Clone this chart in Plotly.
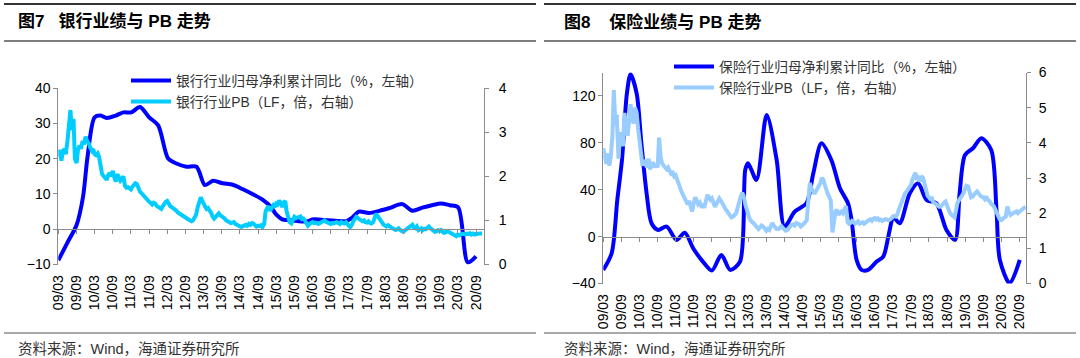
import pandas as pd
import plotly.graph_objects as go

# ---------------- data ----------------
tick_dates = pd.date_range("2009-03-01", "2020-09-01", freq="6MS")
tick_labels = [d.strftime("%y/%m") for d in tick_dates]

# bank: net profit attributable to parent, cumulative YoY (%)
bank_profit_dates = [
    "2009-03-01", "2009-06-01", "2009-09-01", "2009-11-05", "2009-12-20", "2010-03-01",
    "2010-05-01", "2010-07-01", "2010-10-01", "2010-12-15", "2011-03-05", "2011-06-01",
    "2011-09-01", "2011-12-01", "2012-03-10", "2012-06-01", "2012-09-10", "2012-12-20",
    "2013-03-15", "2013-06-05", "2013-09-10", "2013-12-20", "2014-04-01", "2014-07-10",
    "2014-10-15", "2015-01-05", "2015-03-01", "2015-05-01", "2015-07-01", "2015-10-01",
    "2016-01-01", "2016-03-15", "2016-07-01", "2016-10-15", "2017-02-01", "2017-04-01",
    "2017-06-10", "2017-09-20", "2018-01-01", "2018-04-15", "2018-08-20", "2018-12-01",
    "2019-03-10", "2019-06-15", "2019-09-15", "2019-12-10", "2020-03-05", "2020-06-10",
    "2020-09-01",
]
bank_profit = [
    -8.8, -3.8, 1.2, 9.2, 20.5, 31.7,
    32.2, 31.5, 32.2, 33.1, 33.1, 34.6,
    31.7, 29.4, 20.0, 18.6, 17.7, 17.7,
    12.5, 13.7, 13.0, 12.6, 11.3, 9.9,
    8.4, 6.4, 4.2, 2.8, 2.6, 2.3,
    2.2, 2.8, 2.6, 2.4, 2.3, 3.2,
    5.0, 4.6, 5.2, 6.0, 7.1, 5.2,
    6.1, 6.8, 7.3, 6.8, 6.2, -9.4,
    -7.7,
]

# bank PB (LF), semi-monthly from 2009-03
bank_pb = [
    # 2009 Mar-Dec
    2.45, 2.60, 2.35, 2.55, 2.62, 2.50, 2.80, 3.20, 3.50, 3.05,
    3.30, 2.40, 2.30, 2.60, 2.70, 2.62, 2.80, 2.72, 2.90, 2.80,
    # 2010
    2.75, 2.65, 2.58, 2.62, 2.50, 2.48, 2.52, 2.44, 2.20, 2.05, 2.00, 1.95,
    1.92, 2.02, 2.08, 2.00, 2.12, 1.98, 1.88, 2.05, 1.98, 1.90, 1.95, 2.00,
    # 2011
    1.78, 1.74, 1.75, 1.72, 1.70, 1.76, 1.80, 1.84, 1.82, 1.72, 1.65, 1.62,
    1.58, 1.52, 1.48, 1.45, 1.42, 1.40, 1.36, 1.40, 1.38, 1.33, 1.30, 1.28,
    # 2012
    1.26, 1.32, 1.38, 1.42, 1.44, 1.38, 1.32, 1.30, 1.28, 1.24, 1.22, 1.18,
    1.16, 1.14, 1.12, 1.08, 1.06, 1.04, 1.02, 1.00, 0.98, 1.00, 1.06, 1.12,
    # 2013
    1.30, 1.42, 1.52, 1.45, 1.36, 1.32, 1.26, 1.28, 1.22, 1.18, 1.08, 1.04,
    1.08, 1.12, 1.16, 1.12, 1.10, 1.06, 1.04, 1.00, 0.98, 0.96, 0.94, 0.95,
    # 2014
    0.96, 0.92, 0.90, 0.88, 0.86, 0.85, 0.87, 0.89, 0.90, 0.88, 0.92, 0.90,
    0.94, 0.93, 0.87, 0.86, 0.88, 0.87, 0.89, 0.85, 0.92, 1.20, 1.28, 1.32,
    # 2015
    1.22, 1.26, 1.34, 1.30, 1.38, 1.36, 1.45, 1.40, 1.30, 1.40, 1.44, 1.20,
    1.06, 0.96, 0.93, 1.02, 1.08, 1.05, 1.06, 1.08, 1.09, 1.03, 1.04, 1.00,
    # 2016
    0.90, 0.88, 0.92, 0.95, 0.96, 0.94, 0.95, 0.93, 0.92, 0.94, 0.96, 0.98,
    1.00, 0.97, 0.95, 0.93, 0.92, 0.94, 0.93, 0.95, 0.96, 0.94, 0.92, 0.96,
    # 2017
    0.95, 0.93, 0.96, 0.90, 0.88, 0.85, 0.90, 0.98, 1.04, 1.08, 1.05, 1.02,
    1.00, 0.98, 1.00, 0.96, 0.95, 0.98, 0.94, 0.93, 0.96, 1.08, 1.15, 1.10,
    # 2018
    1.04, 0.98, 0.93, 0.90, 0.88, 0.86, 0.89, 0.85, 0.84, 0.82, 0.80, 0.78,
    0.80, 0.82, 0.78, 0.76, 0.74, 0.77, 0.80, 0.84, 0.86, 0.88, 0.90, 0.84,
    # 2019
    0.82, 0.86, 0.78, 0.80, 0.82, 0.78, 0.81, 0.80, 0.83, 0.86, 0.82, 0.80,
    0.76, 0.74, 0.75, 0.78, 0.76, 0.78, 0.74, 0.72, 0.73, 0.75, 0.74, 0.72,
    # 2020 Jan-Nov
    0.70, 0.68, 0.66, 0.64, 0.68, 0.66, 0.68, 0.70, 0.69, 0.68, 0.70, 0.69,
    0.71, 0.68, 0.70, 0.68, 0.69, 0.70, 0.69, 0.70, 0.70,
]

# insurance: net profit attributable to parent, cumulative YoY (%)
ins_profit_dates = [
    "2009-03-01", "2009-05-25", "2009-07-20", "2009-09-05", "2009-10-25", "2009-12-01",
    "2010-02-01", "2010-03-20", "2010-05-12", "2010-07-01", "2010-09-05", "2010-12-01",
    "2011-03-10", "2011-06-01", "2011-08-25", "2011-12-01", "2012-03-01", "2012-06-05",
    "2012-09-01", "2012-12-10", "2013-02-01", "2013-03-01", "2013-05-25", "2013-09-05",
    "2013-12-15", "2014-03-05", "2014-06-15", "2014-10-12", "2014-12-20", "2015-03-12",
    "2015-06-20", "2015-09-15", "2015-12-05", "2016-01-10", "2016-03-01", "2016-04-20",
    "2016-06-25", "2016-09-20", "2016-11-25", "2017-01-15", "2017-02-20", "2017-03-05",
    "2017-05-10", "2017-08-20", "2017-11-12", "2018-02-05", "2018-05-15", "2018-08-25",
    "2018-11-20", "2019-01-05", "2019-02-28", "2019-05-20", "2019-08-12", "2019-11-20",
    "2020-01-12", "2020-02-15", "2020-05-25", "2020-09-03",
]
ins_profit = [
    -28.4, -14.0, 31.0, 65.0, 122.0, 138.5,
    122.0, 80.0, 37.0, 11.4, 5.7, 8.5,
    -2.8, 3.4, -9.9, -21.3, -29.0, -15.6,
    -28.4, -21.3, 57.0, 62.6, 48.4, 103.8,
    65.4, 8.5, 21.3, 28.5, 54.0, 79.6,
    65.4, 41.3, 28.5, 14.2, -19.9, -28.4,
    -28.4, -21.3, -17.0, 0.0, 14.2, 17.0,
    11.4, 37.0, 45.5, 31.3, 28.5, 5.7,
    -2.8, 37.0, 69.7, 75.4, 83.9, 73.9,
    22.8, -19.9, -39.8, -19.9,
]

# insurance PB (LF), semi-monthly from 2009-03
ins_pb = [
    # 2009 Mar-Dec
    3.85, 3.55, 3.40, 3.70, 3.35, 3.60, 4.20, 5.50, 4.50, 4.80,
    3.55, 4.10, 4.30, 3.90, 4.85, 4.50, 4.20, 4.60, 5.10, 4.70,
    # 2010
    4.55, 5.00, 4.85, 4.40, 4.05, 3.70, 3.35, 3.50, 3.45, 3.30, 3.55, 3.25,
    3.35, 3.45, 3.30, 3.40, 3.30, 4.15, 3.60, 3.42, 3.35, 3.28, 3.25, 3.30,
    # 2011
    3.20, 3.12, 3.15, 3.05, 3.08, 2.95, 2.80, 2.72, 2.60, 2.52, 2.40, 2.30,
    2.25, 2.35, 2.15, 2.05, 2.30, 2.45, 2.35, 2.25, 2.30, 2.20, 2.22, 2.15,
    # 2012
    2.35, 2.52, 2.45, 2.38, 2.42, 2.30, 2.18, 2.25, 2.32, 2.42, 2.35, 2.25,
    2.20, 2.12, 2.05, 1.98, 1.95, 1.88, 1.90, 1.95, 2.00, 2.15, 2.35, 2.45,
    # 2013
    2.58, 2.50, 2.25, 2.10, 1.95, 1.85, 1.78, 1.72, 1.70, 1.65, 1.58, 1.55,
    1.60, 1.65, 1.62, 1.55, 1.50, 1.55, 1.52, 1.62, 1.72, 1.65, 1.58, 1.55,
    # 2014
    1.55, 1.60, 1.63, 1.58, 1.55, 1.50, 1.52, 1.58, 1.62, 1.67, 1.68, 1.65,
    1.72, 1.70, 1.68, 1.62, 1.65, 1.70, 1.75, 1.80, 2.40, 2.86, 2.70, 2.60,
    # 2015
    2.55, 2.62, 2.70, 2.78, 2.85, 3.00, 2.95, 2.80, 2.60, 2.55, 2.45, 2.35,
    1.45, 1.80, 2.05, 2.10, 1.95, 2.02, 2.05, 2.00, 2.15, 2.20, 1.75, 1.70,
    # 2016
    1.72, 1.78, 1.75, 1.70, 1.73, 1.77, 1.70, 1.72, 1.74, 1.70, 1.75, 1.78,
    1.80, 1.82, 1.78, 1.84, 1.86, 1.82, 1.85, 1.80, 1.82, 1.78, 1.80, 1.83,
    # 2017
    1.82, 1.80, 1.82, 1.85, 1.88, 1.92, 1.90, 1.95, 2.10, 2.20, 2.35, 2.47,
    2.55, 2.60, 2.67, 2.72, 2.80, 2.95, 3.10, 3.15, 2.95, 3.00, 2.90, 3.05,
    # 2018
    3.00, 2.80, 2.57, 2.50, 2.45, 2.40, 2.42, 2.30, 2.28, 2.25, 2.20, 2.18,
    2.19, 2.25, 2.30, 2.33, 2.20, 2.10, 2.00, 1.95, 1.92, 1.88, 2.10, 2.30,
    # 2019
    2.38, 2.45, 2.55, 2.57, 2.70, 2.78, 2.76, 2.60, 2.45, 2.47, 2.55, 2.58,
    2.62, 2.55, 2.50, 2.47, 2.45, 2.40, 2.47, 2.38, 2.35, 2.28, 2.25, 2.20,
    # 2020 Jan-Nov
    2.10, 2.00, 1.90, 1.82, 1.80, 1.85, 1.88, 1.90, 2.19, 2.05, 1.95, 1.98,
    2.00, 2.03, 2.05, 2.00, 2.04, 2.08, 2.10, 2.12, 2.19,
]
pb_dates = pd.date_range("2009-03-01", periods=len(bank_pb), freq="SMS")

names = {
    "bank_profit": "银行行业归母净利累计同比（%，左轴）",
    "bank_pb": "银行行业PB（LF，倍，右轴）",
    "ins_profit": "保险行业归母净利累计同比（%，左轴）",
    "ins_pb": "保险行业PB（LF，倍，右轴）",
}
titles = ["图7\u00a0\u00a0\u00a0银行业绩与 PB 走势", "图8\u00a0\u00a0\u00a0\u00a0保险业绩与 PB 走势"]
source = "资料来源：Wind，海通证券研究所"

# ---------------- styling ----------------
W, H = 1080, 358
FONT = "Liberation Sans, Arial, Noto Sans CJK SC, sans-serif"
AXIS = "#8c8c8c"
BLUE = "#0000ff"
CYAN = "#00ccff"
LIGHT = "#99ccff"


def px(v):
    return v / W


def py(v):
    return 1 - v / H


fig = go.Figure()

# left panel
fig.add_trace(go.Scatter(x=bank_profit_dates, y=bank_profit, name=names["bank_profit"],
                         xaxis="x", yaxis="y", legend="legend", hoverinfo="skip",
                         line=dict(color=BLUE, width=4, shape="spline", smoothing=0.8)))
fig.add_trace(go.Scatter(x=pb_dates, y=bank_pb, name=names["bank_pb"],
                         xaxis="x", yaxis="y2", legend="legend", hoverinfo="skip",
                         line=dict(color=CYAN, width=4)))
fig.add_trace(go.Scatter(x=bank_profit_dates, y=bank_profit, xaxis="x3", yaxis="y",
                         showlegend=False, opacity=0, hoverinfo="skip"))

# right panel
fig.add_trace(go.Scatter(x=ins_profit_dates, y=ins_profit, name=names["ins_profit"],
                         xaxis="x2", yaxis="y3", legend="legend2", hoverinfo="skip",
                         line=dict(color=BLUE, width=4, shape="spline", smoothing=0.8)))
fig.add_trace(go.Scatter(x=pb_dates, y=ins_pb, name=names["ins_pb"],
                         xaxis="x2", yaxis="y4", legend="legend2", hoverinfo="skip",
                         line=dict(color=LIGHT, width=4)))
fig.add_trace(go.Scatter(x=ins_profit_dates, y=ins_profit, xaxis="x4", yaxis="y3",
                         showlegend=False, opacity=0, hoverinfo="skip"))

tickfont = dict(family=FONT, size=14, color="#000000")

L_X = [px(58.3), px(484)]
L_Y = [py(264.5), py(88)]
R_X = [px(603.3), px(1026)]
R_Y = [py(283.5), py(72.5)]

label_axis = dict(type="date", tickvals=tick_dates, ticktext=tick_labels, tickangle=-90,
                  showline=False, showgrid=False, zeroline=False, ticks="outside",
                  ticklen=4, tickcolor="rgba(0,0,0,0)", tickfont=tickfont, automargin=False)
zero_axis = dict(type="date", tickvals=tick_dates, showticklabels=False, showline=True,
                 linecolor=AXIS, linewidth=1, ticks="outside", ticklen=4, tickcolor=AXIS,
                 showgrid=False, zeroline=False, anchor="free", automargin=False)
val_axis = dict(showline=True, linecolor=AXIS, linewidth=1, ticks="outside", ticklen=4,
                tickcolor=AXIS, showgrid=False, zeroline=False, tickfont=tickfont,
                automargin=False)

fig.update_layout(
    xaxis=dict(label_axis, domain=L_X, range=["2009-03-01", "2020-11-20"], anchor="y"),
    xaxis3=dict(zero_axis, overlaying="x", matches="x", position=py(229.3)),
    yaxis=dict(val_axis, domain=L_Y, range=[-10, 40], dtick=10, anchor="x"),
    yaxis2=dict(val_axis, overlaying="y", side="right", range=[0, 4], dtick=1,
                anchor="x", ticklabelstandoff=7),
    xaxis2=dict(label_axis, domain=R_X, range=["2009-03-01", "2020-11-05"], anchor="y3"),
    xaxis4=dict(zero_axis, overlaying="x2", matches="x2", position=py(236.7)),
    yaxis3=dict(val_axis, domain=R_Y, range=[-40, 140], tickvals=[-40, 0, 40, 80, 120],
                anchor="x2"),
    yaxis4=dict(val_axis, overlaying="y3", side="right", range=[0, 6], dtick=1,
                anchor="x2", ticklabelstandoff=5),
    legend=dict(x=px(126), y=py(65), xanchor="left", yanchor="top",
                font=dict(family=FONT, size=13.8, color="#333333"),
                bgcolor="rgba(0,0,0,0)", itemwidth=40, tracegroupgap=0),
    legend2=dict(x=px(669), y=py(51), xanchor="left", yanchor="top",
                 font=dict(family=FONT, size=13.8, color="#333333"),
                 bgcolor="rgba(0,0,0,0)", itemwidth=40, tracegroupgap=0),
    width=W, height=H, margin=dict(l=0, r=0, t=0, b=0, autoexpand=False),
    paper_bgcolor="white", plot_bgcolor="white", showlegend=True,
)

# header / footer rules
for x0, x1 in [(4, 536), (544, 1076)]:
    fig.add_shape(type="line", xref="paper", yref="paper", x0=px(x0), x1=px(x1),
                  y0=py(4), y1=py(4), line=dict(color="#333333", width=2))
    fig.add_shape(type="line", xref="paper", yref="paper", x0=px(x0), x1=px(x1),
                  y0=py(41), y1=py(41), line=dict(color="#555555", width=1.5))
    fig.add_shape(type="line", xref="paper", yref="paper", x0=px(x0), x1=px(x1),
                  y0=py(333), y1=py(333), line=dict(color="#555555", width=1))

for text, x in zip(titles, [16, 562]):
    fig.add_annotation(text="<b>" + text + "</b>", xref="paper", yref="paper",
                       x=px(x), y=py(22), xanchor="left", yanchor="middle", showarrow=False,
                       font=dict(family=FONT, size=17, color="#000000"))
for x in [16, 562]:
    fig.add_annotation(text=source, xref="paper", yref="paper",
                       x=px(x), y=py(349), xanchor="left", yanchor="middle", showarrow=False,
                       font=dict(family=FONT, size=14.5, color="#333333"))

fig.write_html("out.html",
               config={"displayModeBar": False, "staticPlot": True},
               post_script="document.body.style.margin='0px';"
                           "document.body.style.overflow='hidden';")
